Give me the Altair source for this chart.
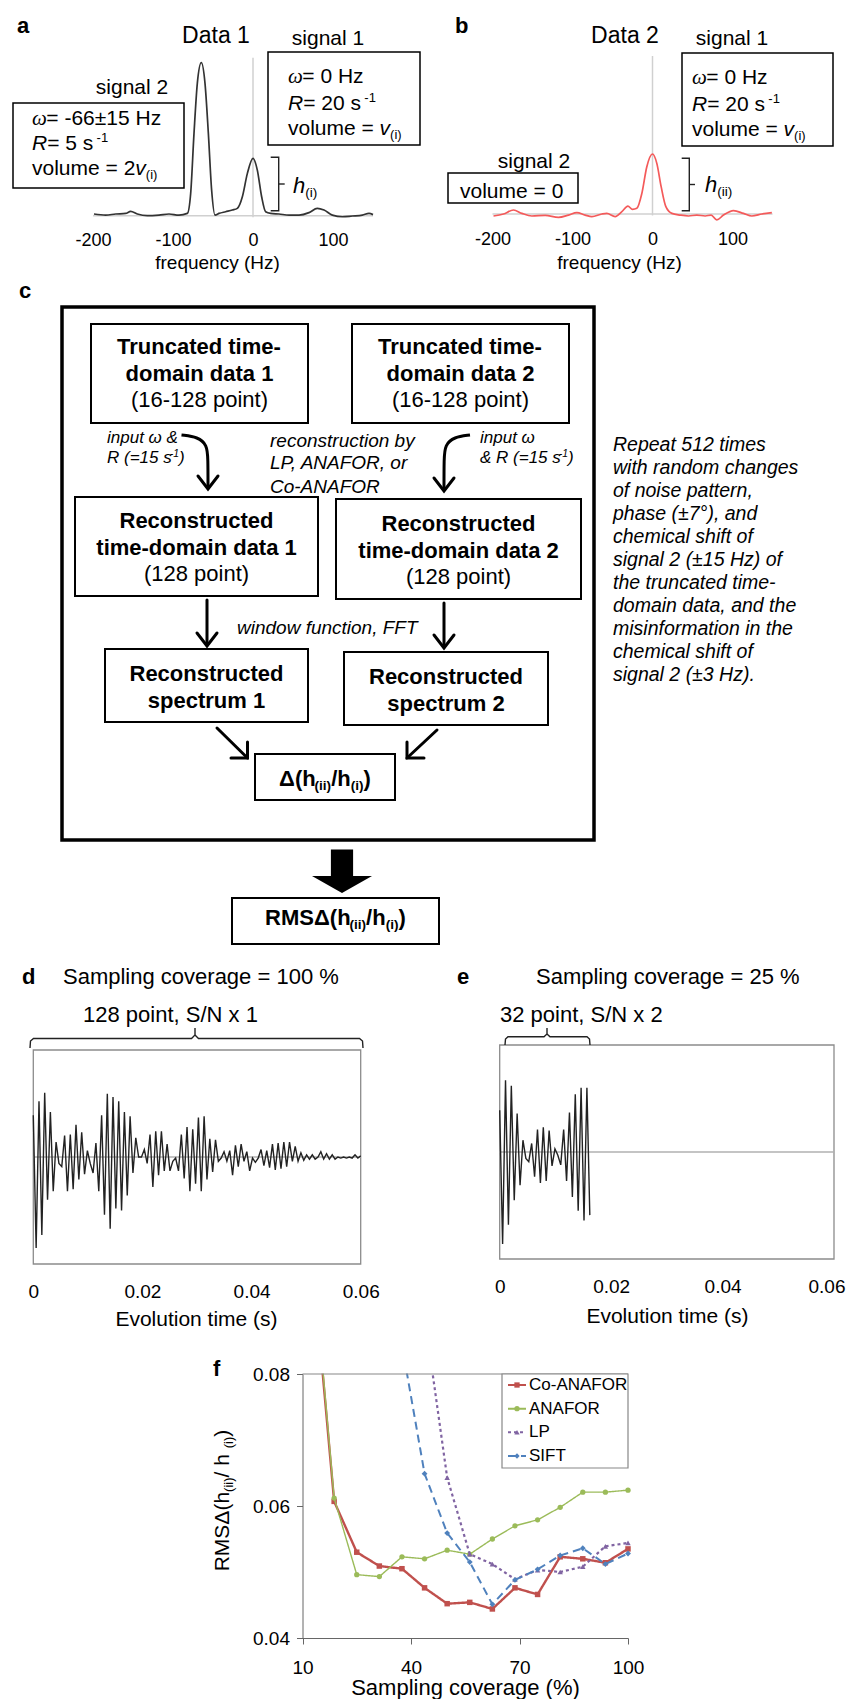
import altair as alt
import pandas as pd

W, H = 839, 1691
SANS = "Liberation Sans, Arial, Helvetica, sans-serif"
SERIF = "Liberation Serif, Times New Roman, serif"

# ---------------- panel a / b : spectra ----------------
SPEC_A_HZ = [-198.75, -184.2, -171.7, -159.2, -152.9, -144.6, -132.1, -117.5, -105.0, -92.5,
             -82.1, -77.9, -73.75, -69.6, -64.6, -60.0, -55.8, -51.7, -47.5, -42.5,
             -34.2, -25.8, -19.6, -13.3, -7.1, 0.0, 5.4, 10.8, 15.8, 22.1,
             32.5, 45.0, 57.5, 70.0, 80.4, 88.75, 99.2, 111.7, 124.2, 136.7, 145.0, 150.0]
SPEC_A_I = [0.011, 0.004, 0.011, 0.015, 0.028, 0.011, 0.0, 0.004, 0.011, 0.004,
            0.015, 0.146, 0.538, 0.865, 1.0, 0.865, 0.538, 0.166, 0.004, 0.015,
            0.026, 0.037, 0.048, 0.124, 0.275, 0.375, 0.298, 0.124, 0.026, 0.015,
            0.011, 0.004, 0.004, 0.020, 0.048, 0.037, 0.004, -0.007, -0.002, 0.004, 0.015, 0.007]
SPEC_B_HZ = [-198.75, -186.25, -173.75, -163.3, -150.8, -134.2, -117.5, -105.0, -94.6, -84.2,
             -75.8, -63.3, -57.1, -46.7, -38.3, -30.8, -25.0, -19.6, -13.3, -7.1,
             0.0, 5.4, 10.8, 16.7, 24.2, 34.6, 45.0, 55.4, 65.8, 73.3,
             80.4, 88.75, 101.25, 113.75, 124.2, 136.7, 149.2]
SPEC_B_I = [-0.013, 0.0, 0.026, 0.004, -0.013, -0.009, -0.022, -0.007, 0.009, -0.007,
            -0.017, 0.0, 0.004, -0.017, 0.015, 0.052, 0.030, 0.037, 0.135, 0.309,
            0.392, 0.331, 0.179, 0.048, 0.004, -0.007, -0.013, -0.007, -0.013, -0.007,
            -0.039, -0.007, 0.022, 0.004, -0.013, 0.0, 0.009]
FREQ_TICKS = [-200, -100, 0, 100]

# ---------------- panel d / e : time-domain data ----------------
FID_D = [0.39, -0.85, 0.52, -0.73, 0.60, -0.40, 0.42, -0.32, 0.14, -0.06,
         -0.09, 0.20, -0.32, 0.21, -0.30, 0.30, -0.21, 0.23, -0.16, 0.06,
         -0.06, -0.15, 0.13, -0.32, 0.39, -0.54, 0.59, -0.67, 0.56, -0.48,
         0.52, -0.50, 0.42, -0.36, 0.38, -0.15, 0.18, 0.00, 0.00, 0.07,
         -0.06, 0.21, -0.28, 0.24, -0.17, 0.24, -0.13, 0.12, -0.13, -0.04,
         -0.01, -0.13, 0.21, -0.20, 0.28, -0.32, 0.26, -0.25, 0.37, -0.32,
         0.38, -0.21, 0.17, -0.14, 0.16, -0.04, -0.01, 0.05, -0.04, 0.06,
         -0.17, 0.11, -0.09, 0.12, -0.04, 0.05, -0.13, -0.01, -0.05, -0.01,
         0.07, -0.08, 0.06, -0.10, 0.12, -0.12, 0.13, -0.11, 0.14, -0.09,
         0.14, -0.04, 0.10, -0.04, 0.04, -0.03, 0.02, -0.02, 0.02, -0.02,
         0.00, 0.05, -0.02, 0.03, -0.02, 0.02, -0.02, 0.00, -0.01, 0.00,
         -0.01, 0.00, -0.01, 0.02, -0.01, 0.01]
FID_E = [0.39, -0.86, 0.67, -0.68, 0.62, -0.45, 0.36, -0.31, 0.11, -0.06,
         -0.09, 0.08, -0.23, 0.21, -0.29, 0.23, -0.27, 0.20, -0.13, 0.03,
         -0.03, -0.12, 0.21, -0.27, 0.37, -0.42, 0.54, -0.55, 0.60, -0.64,
         0.60, -0.59]
DWELL = 0.06 / 115
TIME_TICKS = [0, 0.02, 0.04, 0.06]

# ---------------- panel f ----------------
COVERAGE = [12.5, 18.75, 25, 31.25, 37.5, 43.75, 50, 56.25, 62.5, 68.75, 75, 81.25, 87.5, 93.75, 100]
CO_ANAFOR = [0.099, 0.0607, 0.0530, 0.0509, 0.0505, 0.0476, 0.0452, 0.0454, 0.0444, 0.0476,
             0.0466, 0.0523, 0.0520, 0.0514, 0.0535]
ANAFOR = [0.100, 0.0612, 0.0496, 0.0493, 0.0523, 0.0520, 0.0533, 0.0527, 0.0550, 0.0570,
          0.0579, 0.0598, 0.0621, 0.0621, 0.0624]
LP = [None, None, None, None, None, 0.0888, 0.0643, 0.0527, 0.0512, 0.0489,
      0.0503, 0.0500, 0.0508, 0.0539, 0.0544]
SIFT = [None, None, None, None, 0.0844, 0.0649, 0.0559, 0.0515, 0.0451, 0.0488,
        0.0504, 0.0525, 0.0536, 0.0512, 0.0528]
SERIES = ["Co-ANAFOR", "ANAFOR", "LP", "SIFT"]
SERIES_VALUES = [CO_ANAFOR, ANAFOR, LP, SIFT]
COLORS = ["#c0504d", "#9bbb59", "#8064a2", "#4f81bd"]
DASHES = [[1, 0], [1, 0], [3, 3], [8, 5]]
WIDTHS = [2.4, 1.4, 2.2, 2.0]
SHAPES = ["square", "circle", "triangle-up", "diamond"]
MSIZE = [30, 28, 30, 34]
COV_TICKS = [10, 40, 70, 100]
RMS_TICKS = [0.04, 0.06, 0.08]

PARA = ["Repeat 512 times", "with random changes", "of noise pattern,", "phase (\u00b17\u00b0), and",
        "chemical shift of", "signal 2 (\u00b115 Hz) of", "the truncated time-",
        "domain data, and the", "misinformation in the", "chemical shift of", "signal 2 (\u00b13 Hz)."]

# ---------------- text composition helpers ----------------
REG = {' ': 278, '!': 278, '%': 889, '&': 667, '(': 333, ')': 333, ',': 278, '-': 333, '.': 278,
       '/': 278, '=': 584, '\u00b1': 549, '\u00b0': 400, 'A': 667, 'C': 722, 'D': 722, 'F': 611,
       'H': 722, 'L': 556, 'M': 833, 'N': 722, 'O': 778, 'P': 667, 'R': 722, 'S': 667, 'T': 611,
       'a': 556, 'b': 556, 'c': 500, 'd': 556, 'e': 556, 'f': 278, 'g': 556, 'h': 556, 'i': 222,
       'k': 500, 'l': 222, 'm': 833, 'n': 556, 'o': 556, 'p': 556, 'q': 556, 'r': 333, 's': 500,
       't': 278, 'u': 556, 'v': 500, 'w': 722, 'x': 500, 'y': 500, 'z': 500, '\u0394': 668,
       '\u03c9': 690}
BLD = dict(REG)
BLD.update({'A': 722, 'R': 722, 'a': 556, 'c': 556, 'd': 611, 'e': 556, 'h': 611, 'i': 278,
            'm': 889, 'n': 611, 'o': 611, 'p': 611, 'r': 389, 's': 556, 't': 333, 'u': 611,
            'T': 611, 'y': 556})


def tw(s, size, bold=False):
    t = BLD if bold else REG
    return sum(t.get(c, 556) for c in s) * size / 1000.0


TEXT = []


def put(x, y, runs, size, anchor="left"):
    items = []
    for r in runs:
        text, kind = r[0], r[1]
        pos = r[2] if len(r) > 2 else ""
        s = size * 0.62 if pos else size
        dy = 0.2 * size if pos == "sub" else (-0.38 * size if pos == "sup" else 0)
        kern = -0.12 * size if pos == "sup" else 0
        w = 0.68 * s if kind == "w" else tw(text, s, kind == "b")
        items.append((text, kind, s, dy, w, kern))
    total = sum(i[4] + i[5] for i in items)
    cx = x - total / 2 if anchor == "center" else x
    for text, kind, s, dy, w, kern in items:
        cx += kern
        TEXT.append(dict(t=text, x=round(cx, 1), y=round(y + dy, 1), s=round(s, 1), k=kind))
        cx += w


# panel a
put(9, 25, [("a", "b")], 22)
put(208, 35, [("Data 1", "n")], 23, "center")
put(320, 37, [("signal 1", "n")], 21, "center")
put(280, 75, [("\u03c9", "w"), (" = 0 Hz", "n")], 21)
put(280, 102, [("R", "i"), (" = 20 s", "n"), ("-1", "n", "sup")], 21)
put(280, 127, [("volume = ", "n"), ("v", "i"), ("(i)", "n", "sub")], 21)
put(124, 86, [("signal 2", "n")], 21, "center")
put(24, 117, [("\u03c9", "w"), ("= -66\u00b115 Hz", "n")], 21)
put(24, 142, [("R", "i"), (" = 5 s", "n"), ("-1", "n", "sup")], 21)
put(24, 167, [("volume = 2", "n"), ("v", "i"), ("(i)", "n", "sub")], 21)
put(285, 185, [("h", "i"), ("(i)", "n", "sub")], 22)
# panel b
put(447, 25, [("b", "b")], 22)
put(617, 35, [("Data 2", "n")], 23, "center")
put(724, 37, [("signal 1", "n")], 21, "center")
put(684, 76, [("\u03c9", "w"), (" = 0 Hz", "n")], 21)
put(684, 103, [("R", "i"), (" = 20 s", "n"), ("-1", "n", "sup")], 21)
put(684, 128, [("volume = ", "n"), ("v", "i"), ("(i)", "n", "sub")], 21)
put(526, 160, [("signal 2", "n")], 21, "center")
put(452, 190, [("volume = 0", "n")], 21)
put(697, 184, [("h", "i"), ("(ii)", "n", "sub")], 22)
# panel c
put(11, 290, [("c", "b")], 22)
for cx, lab in [(191.5, "1"), (452.5, "2")]:
    put(cx, 346, [("Truncated time-", "b")], 22, "center")
    put(cx, 373, [("domain data " + lab, "b")], 22, "center")
    put(cx, 399, [("(16-128 point)", "n")], 22, "center")
put(99, 435, [("input \u03c9 &", "i")], 17)
put(99, 455, [("R (=15 s", "i"), ("-1", "i", "sup"), (")", "i")], 17)
put(262, 439, [("reconstruction by", "i")], 19)
put(262, 461, [("LP, ANAFOR, or", "i")], 19)
put(262, 485, [("Co-ANAFOR", "i")], 19)
put(472, 435, [("input \u03c9", "i")], 17)
put(472, 455, [("& R (=15 s", "i"), ("-1", "i", "sup"), (")", "i")], 17)
for cx, yb, lab in [(188.5, 520, "1"), (450.5, 523, "2")]:
    put(cx, yb, [("Reconstructed", "b")], 22, "center")
    put(cx, yb + 27, [("time-domain data " + lab, "b")], 22, "center")
    put(cx, yb + 53, [("(128 point)", "n")], 22, "center")
put(229, 626, [("window function, FFT", "i")], 19)
for cx, yb, lab in [(198.5, 673, "1"), (438, 676, "2")]:
    put(cx, yb, [("Reconstructed", "b")], 22, "center")
    put(cx, yb + 27, [("spectrum " + lab, "b")], 22, "center")
put(317, 778, [("\u0394(h", "b"), ("(ii)", "b", "sub"), ("/h", "b"), ("(i)", "b", "sub"), (")", "b")], 22, "center")
for k, line in enumerate(PARA):
    put(605, 443 + 23 * k, [(line, "i")], 19.5)
put(327.5, 917, [("RMS\u0394(h", "b"), ("(ii)", "b", "sub"), ("/h", "b"), ("(i)", "b", "sub"), (")", "b")], 22, "center")
# panels d / e
put(14, 976, [("d", "b")], 22)
put(55, 976, [("Sampling coverage = 100 %", "n")], 22)
put(449, 976, [("e", "b")], 22)
put(528, 976, [("Sampling coverage = 25 %", "n")], 22)
put(75, 1014, [("128 point, S/N x 1", "n")], 22)
put(492, 1014, [("32 point, S/N x 2", "n")], 22)
# panel f
put(205, 1368, [("f", "b")], 22)

# rotated y title of panel f
ROT = []
_runs = [("RMS\u0394(h", ""), ("(ii)", "sub"), (" / h", ""), ("(i)", "sub"), (")", "")]
_size = 21
_lens = [tw(t, _size * (0.62 if p else 1)) for t, p in _runs]
_cy = 1492.5 + sum(_lens) / 2
for (t, p), L in zip(_runs, _lens):
    s = _size * (0.62 if p else 1)
    ROT.append(dict(t=t, x=221 + (0.2 * _size if p else 0), y=round(_cy, 1), s=round(s, 1)))
    _cy -= L

# ---------------- diagram geometry (pixels) ----------------
BOX_THIN = [(260, 412, 44, 137), (5, 176, 95, 180), (674, 825, 45, 138), (440, 570, 165, 195)]
BOX_MED = [(83, 300, 316, 415), (344, 561, 316, 415), (67, 310, 489, 588), (328, 573, 491, 591),
           (97, 300, 641, 714), (336, 540, 644, 717), (247, 387, 746, 792), (224, 431, 890, 936)]
BOX_OUTER = [(54, 586, 299, 832)]
CURVES = [[(173.5, 427), (190, 429), (199, 437), (200, 450), (200, 481)],
          [(462, 427), (446, 429), (437, 437), (436, 450), (436, 483)]]
STRAIGHT = [[(190, 468), (200, 481), (210, 468)], [(426, 470), (436, 483), (446, 470)],
            [(199, 592), (199, 637)], [(189, 625), (199, 638), (209, 625)],
            [(436, 595), (436, 639)], [(426, 627), (436, 640), (446, 627)],
            [(209, 720), (239.5, 750)], [(223, 750), (239.5, 750), (239.5, 734)],
            [(429, 722), (399, 750)], [(399, 734), (399, 750), (416, 750)]]
THIN_PATHS = [[(262.7, 149.3), (270.7, 149.3), (270.7, 202.7), (262.7, 202.7)],
              [(270.7, 176), (276.7, 176)],
              [(673.7, 150.3), (681.3, 150.3), (681.3, 202.7), (673.7, 202.7)],
              [(681.3, 176.5), (687, 176.5)],
              [(22, 1040), (22.5, 1033), (25.5, 1030.5), (183.5, 1030.5), (187, 1027), (187, 1020)],
              [(187, 1027), (190.5, 1030.5), (351.5, 1030.5), (354.5, 1033), (355, 1040)],
              [(497, 1037), (497.5, 1031), (500, 1028.7), (536, 1028.7), (539, 1026), (539, 1020)],
              [(539, 1026), (542, 1028.7), (579, 1028.7), (581.5, 1031), (582, 1037)]]
ARROW_PATH = "M-0.37,-0.85L0.37,-0.85L0.37,0.03L1,0.03L0,0.6L-1,0.03L-0.37,0.03Z"


def paths_df(paths):
    rows = []
    for i, p in enumerate(paths):
        for j, (x, y) in enumerate(p):
            rows.append(dict(id=i, o=j, x=x, y=y))
    return pd.DataFrame(rows)


def boxes_df(boxes):
    return pd.DataFrame(boxes, columns=["x0", "x1", "y0", "y1"])


PX = dict(scale=None, axis=None)
one = pd.DataFrame({"k": [0]})


def S(domain, rng):
    return alt.Scale(domain=domain, range=rng, nice=False, zero=False)


XA, YA = S([-200, 150], [85, 365]), S([0, 1], [207.7, 54.7])
XB, YB = S([-200, 150], [484.5, 764.5]), S([0, 1], [206, 53])
XD, YD = S([0, 0.06], [25.3, 352.7]), S([-1, 1], [1256, 1042])
XE, YE = S([0, 0.06], [491.7, 826]), S([-1, 1], [1251, 1037])
XF, YF = S([10, 100], [294.5, 620]), S([0.04, 0.08], [1630, 1366])


def freq_axis(y0, title_x):
    return alt.Axis(orient="bottom", offset=y0 - H, values=FREQ_TICKS, domain=False, ticks=False,
                    tickSize=0, labelPadding=16, labelFontSize=18, labelFlush=False,
                    labelExpr="'' + datum.value", title="frequency (Hz)", titleFontSize=19,
                    titleX=title_x, titleY=260 - y0, titleBaseline="alphabetic", titleAlign="center")


def time_axis(y0, title_x, title_y, edge):
    extra = {}
    if edge:
        extra = dict(labelAlign=alt.condition("datum.value >= 0.06", alt.value("right"), alt.value("center")),
                     labelOffset=alt.condition("datum.value >= 0.06", alt.value(11), alt.value(0)))
    return alt.Axis(orient="bottom", offset=y0 - H, values=TIME_TICKS, domain=False, ticks=False,
                    tickSize=0, labelPadding=18, labelFontSize=19, labelFlush=False,
                    labelExpr="'' + datum.value", title="Evolution time (s)", titleFontSize=21,
                    titleX=title_x, titleY=title_y, titleBaseline="alphabetic", titleAlign="center",
                    zindex=1, **extra)


layers = []

# ---- panel f data (drawn first; a white mask hides the part above the plot) ----
for i, name in enumerate(SERIES):
    df = pd.DataFrame({"cov": COVERAGE, "val": SERIES_VALUES[i]}).dropna()
    if i == 0:
        xax = alt.Axis(orient="bottom", offset=1630 - H, values=COV_TICKS, domainColor="#666",
                       tickColor="#666", tickSize=6, labelPadding=14, labelFontSize=19,
                       labelFlush=False, title="Sampling coverage (%)", titleFontSize=22,
                       titleX=457, titleY=56, titleBaseline="alphabetic", titleAlign="center")
        yax = alt.Axis(orient="left", offset=-294.5, values=RMS_TICKS, domainColor="#666",
                       tickColor="#666", tickSize=6, labelPadding=7, labelFontSize=19,
                       labelFlush=False, labelExpr="'' + datum.value", title=None)
    else:
        xax = None
        yax = None
    layers.append(alt.Chart(df).mark_line(color=COLORS[i], strokeWidth=WIDTHS[i], strokeDash=DASHES[i])
                  .encode(x=alt.X("cov:Q", scale=XF, axis=xax), y=alt.Y("val:Q", scale=YF, axis=yax)))
    layers.append(alt.Chart(df).mark_point(shape=SHAPES[i], filled=True, size=MSIZE[i], color=COLORS[i], opacity=1)
                  .encode(x=alt.X("cov:Q", scale=XF, axis=None), y=alt.Y("val:Q", scale=YF, axis=None)))

layers.append(alt.Chart(one).mark_rect(color="white").encode(
    x=alt.value(296), x2=alt.value(446), y=alt.value(1225), y2=alt.value(1365.4)))

# top line of panel f and legend
layers.append(alt.Chart(one).mark_rule(color="#888", strokeWidth=1.2).encode(
    x=alt.XDatum(10, type="quantitative", scale=XF, axis=None), x2=alt.X2Datum(100),
    y=alt.YDatum(0.08, type="quantitative", scale=YF, axis=None)))
layers.append(alt.Chart(one).mark_rect(fill="white", stroke="#888", strokeWidth=1.2).encode(
    x=alt.value(494), x2=alt.value(620), y=alt.value(1366), y2=alt.value(1460)))
leg = pd.DataFrame({"series": SERIES})
LEGY = alt.Scale(type="point", domain=SERIES, range=[1377, 1448], padding=0)
layers.append(alt.Chart(leg).mark_rule(strokeWidth=2).encode(
    x=alt.value(500), x2=alt.value(518), y=alt.Y("series:N", scale=LEGY, axis=None),
    color=alt.Color("series:N", scale=alt.Scale(domain=SERIES, range=COLORS), legend=None),
    strokeDash=alt.StrokeDash("series:N", scale=alt.Scale(domain=SERIES, range=DASHES), legend=None)))
layers.append(alt.Chart(leg).mark_point(filled=True, size=28, opacity=1).encode(
    x=alt.value(509), y=alt.Y("series:N", scale=LEGY, axis=None),
    color=alt.Color("series:N", scale=alt.Scale(domain=SERIES, range=COLORS), legend=None),
    shape=alt.Shape("series:N", scale=alt.Scale(domain=SERIES, range=SHAPES), legend=None)))
layers.append(alt.Chart(leg).mark_text(align="left", baseline="middle", font=SANS, fontSize=17, color="black").encode(
    x=alt.value(521), y=alt.Y("series:N", scale=LEGY, axis=None), text="series:N"))

# ---- panels a / b ----
for XS, YS, hz, inten, col, y0, tx in [(XA, YA, SPEC_A_HZ, SPEC_A_I, "#333333", 207.7, 209),
                                        (XB, YB, SPEC_B_HZ, SPEC_B_I, "#f45a5a", 206, 611)]:
    layers.append(alt.Chart(one).mark_rule(color="#d0d0d0", strokeWidth=1.5).encode(
        x=alt.XDatum(0, type="quantitative", scale=XS, axis=None), y=alt.value(y0 - 158), y2=alt.value(y0 + 1.5)))
    layers.append(alt.Chart(one).mark_rule(color="#d0d0d0", strokeWidth=1.5).encode(
        x=alt.XDatum(-200, type="quantitative", scale=XS, axis=None), x2=alt.X2Datum(150),
        y=alt.YDatum(0, type="quantitative", scale=YS, axis=None)))
    df = pd.DataFrame({"hz": hz, "inten": inten})
    layers.append(alt.Chart(df).mark_line(color=col, strokeWidth=1.7, interpolate="monotone").encode(
        x=alt.X("hz:Q", scale=XS, axis=freq_axis(y0, tx)), y=alt.Y("inten:Q", scale=YS, axis=None)))

# ---- panels d / e ----
for XS, YS, vals, y0, tx, ty, edge in [(XD, YD, FID_D, 1256, 188, 61, False),
                                       (XE, YE, FID_E, 1251, 659, 63, True)]:
    layers.append(alt.Chart(one).mark_rect(fillOpacity=0, stroke="#8c8c8c", strokeWidth=1.3).encode(
        x=alt.XDatum(0, type="quantitative", scale=XS, axis=None), x2=alt.X2Datum(0.06),
        y=alt.YDatum(-1, type="quantitative", scale=YS, axis=None), y2=alt.Y2Datum(1)))
    layers.append(alt.Chart(one).mark_rule(color="#b0b0b0", strokeWidth=1.3).encode(
        x=alt.XDatum(0, type="quantitative", scale=XS, axis=None), x2=alt.X2Datum(0.06),
        y=alt.YDatum(0, type="quantitative", scale=YS, axis=None)))
    df = pd.DataFrame({"t": [i * DWELL for i in range(len(vals))], "amp": vals})
    layers.append(alt.Chart(df).mark_line(color="#222222", strokeWidth=1.4).encode(
        x=alt.X("t:Q", scale=XS, axis=time_axis(y0, tx, ty, edge)), y=alt.Y("amp:Q", scale=YS, axis=None)))

# ---- diagram shapes ----
for boxes, sw in [(BOX_THIN, 1.5), (BOX_MED, 2.0), (BOX_OUTER, 3.5)]:
    layers.append(alt.Chart(boxes_df(boxes)).mark_rect(fillOpacity=0, stroke="black", strokeWidth=sw).encode(
        x=alt.X("x0:Q", **PX), x2="x1:Q", y=alt.Y("y0:Q", **PX), y2="y1:Q"))
layers.append(alt.Chart(paths_df(CURVES)).mark_line(color="black", strokeWidth=3, interpolate="basis").encode(
    x=alt.X("x:Q", **PX), y=alt.Y("y:Q", **PX), detail="id:N", order="o:Q"))
layers.append(alt.Chart(paths_df(STRAIGHT)).mark_line(color="black", strokeWidth=3, strokeCap="round",
                                                      strokeJoin="miter").encode(
    x=alt.X("x:Q", **PX), y=alt.Y("y:Q", **PX), detail="id:N", order="o:Q"))
layers.append(alt.Chart(paths_df(THIN_PATHS)).mark_line(color="#222", strokeWidth=1.4).encode(
    x=alt.X("x:Q", **PX), y=alt.Y("y:Q", **PX), detail="id:N", order="o:Q"))
layers.append(alt.Chart(one).mark_point(shape=ARROW_PATH, filled=True, size=3600, color="black",
                                        opacity=1, strokeWidth=0).encode(x=alt.value(334), y=alt.value(867)))

# ---- text ----
TDF = pd.DataFrame(TEXT)
KINDS = {"n": dict(font=SANS), "i": dict(font=SANS, fontStyle="italic"),
         "b": dict(font=SANS, fontWeight="bold"), "w": dict(font=SERIF, fontStyle="italic")}
for k, props in KINDS.items():
    sub = TDF[TDF.k == k]
    layers.append(alt.Chart(sub).mark_text(align="left", baseline="alphabetic", color="black", **props).encode(
        x=alt.X("x:Q", **PX), y=alt.Y("y:Q", **PX), size=alt.Size("s:Q", scale=None, legend=None), text="t:N"))
layers.append(alt.Chart(pd.DataFrame(ROT)).mark_text(align="left", baseline="alphabetic", color="black",
                                                     font=SANS, angle=270).encode(
    x=alt.X("x:Q", **PX), y=alt.Y("y:Q", **PX), size=alt.Size("s:Q", scale=None, legend=None), text="t:N"))

chart = alt.layer(*layers).properties(
    width=W, height=H, autosize=alt.AutoSizeParams(type="none"), padding=0
).resolve_scale(x="independent", y="independent").configure_view(stroke=None).configure_axis(
    labelFont=SANS, titleFont=SANS, labelColor="black", titleColor="black", titleFontWeight="normal", grid=False)

chart.save("out.html", embed_options={"renderer": "svg", "actions": False})
